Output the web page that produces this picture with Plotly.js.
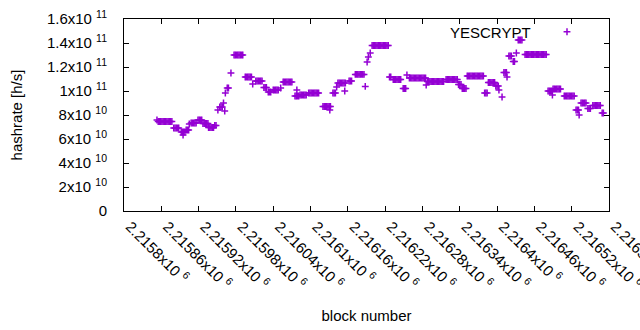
<!DOCTYPE html>
<html>
<head>
<meta charset="utf-8">
<script src="https://cdn.plot.ly/plotly-3.0.1.min.js"></script>
<style>html,body{margin:0;padding:0;background:#fff;}#chart{width:640px;height:330px;}</style>
</head>
<body>
<div id="chart"></div>
<script>
var seriesName = "YESCRYPT";
var blocks = [
2215853,
2215855,2215857,2215859,2215861,2215863,2215865,2215867,2215869,2215871,2215873,2215875,2215877,
2215880,2215882,2215884,2215886,2215888,
2215892,2215894,2215895,2215896,2215898,
2215900,2215902,2215904,
2215905,
2215908,2215910,2215912,2215914,2215916,
2215919,2215921,2215923,2215925,
2215927,2215929,2215931,2215933,2215935,
2215936,2215938,2215940,2215942,2215944,
2215946,2215948,
2215951,
2215954,2215956,2215958,
2215960,
2215962,
2215963,
2215966,2215968,
2215972,
2215977,2215979,2215981,2215983,2215985,2215987,2215989,2215991,
2215995,2215997,2215999,2216001,2216003,2216005,
2216007,
2216012,2216014,2216016,2216018,2216020,2216022,
2216025,2216027,2216029,
2216032,2216034,2216036,
2216040,2216042,2216044,2216046,2216048,
2216052,
2216056,2216058,2216060,2216062,2216064,2216066,2216068,2216070,
2216075,2216077,2216078,2216079,2216081,
2216083,2216085,2216087,2216089,2216091,2216093,
2216097,2216099,2216101,2216103,2216105,2216107,2216109,2216111,2216113,
2216120,2216122,2216124,2216126,2216128,2216130,2216131,2216132,
2216136,2216138,2216140,
2216142,
2216144,2216146,2216148,2216150,2216152,2216154,2216155,2216156,
2216162,2216164,2216166,
2216172,2216174,2216176,2216178,2216180,2216182,2216184,2216186,
2216188,
2216191,
2216193,
2216196,
2216199,2216201,2216203,2216205,2216207,2216209,2216211,2216213,2216215,2216217,2216219,2216221,2216223,2216225,
2216227,2216229,
2216233,2216235,2216237,2216239,2216241,2216243,2216245,
2216249,2216251,2216253,
2216255,
2216259,2216261,2216263,2216265,2216267,2216269,2216271,2216273,2216275,2216277,2216279,2216281,2216283,2216285,
2216286,
2216288,2216290,2216292,2216294,2216296,2216298,2216300,2216302,2216304,2216306,2216308,2216310,2216312,2216314,
2216318,2216320,2216322,2216324,2216326,2216328,2216330,2216332,2216334,2216336,
2216338,2216340,2216342,
2216344,2216346,2216348,2216350,
2216352,2216354,2216356,2216358,2216360,2216362,2216364,2216366,2216368,2216370,2216372,2216374,2216376,2216378,
2216380,2216382,2216384,
2216386,2216388,2216390,2216392,2216394,2216396,
2216398,2216400,2216402,
2216403,
2216408,
2216411,2216413,2216415,
2216416,
2216419,2216421,2216423,
2216426,2216428,
2216431,
2216434,2216436,2216438,2216440,
2216445,2216447,2216449,2216451,2216453,2216455,2216457,2216459,2216461,2216463,2216465,2216467,2216469,2216471,2216473,2216475,2216477,2216479,
2216482,2216484,2216486,2216488,
2216489,
2216490,2216492,2216494,2216496,2216498,2216500,2216502,
2216508,2216510,2216512,2216514,2216516,2216518,2216520,2216522,2216524,
2216527,2216529,2216531,
2216532,
2216535,2216537,2216539,2216541,2216543,
2216546,2216548,2216550,
2216554,2216556,2216558,2216560,2216562,2216564,2216566,
2216569,2216571
];
var hashrate = [
7.58e10,
7.46e10,7.46e10,7.46e10,7.46e10,7.46e10,7.46e10,7.46e10,7.46e10,7.46e10,7.46e10,7.46e10,7.46e10,
6.92e10,6.92e10,6.92e10,6.92e10,6.92e10,
6.58e10,6.58e10,6.33e10,6.58e10,6.58e10,
6.75e10,6.75e10,6.75e10,
7.25e10,
7.33e10,7.33e10,7.33e10,7.33e10,7.33e10,
7.58e10,7.58e10,7.58e10,7.58e10,
7.29e10,7.29e10,7.29e10,7.29e10,7.29e10,
6.96e10,6.96e10,6.96e10,6.96e10,6.96e10,
7.13e10,7.13e10,
8.42e10,
8.67e10,8.67e10,8.67e10,
9.00e10,
8.33e10,
9.83e10,
10.25e10,10.25e10,
11.5e10,
13.0e10,13.0e10,13.0e10,13.0e10,13.0e10,13.0e10,13.0e10,13.0e10,
11.17e10,11.17e10,11.17e10,11.17e10,11.17e10,11.17e10,
10.58e10,
10.83e10,10.83e10,10.83e10,10.83e10,10.83e10,10.83e10,
10.29e10,10.29e10,10.29e10,
9.92e10,9.92e10,9.92e10,
10.08e10,10.08e10,10.08e10,10.08e10,10.08e10,
10.25e10,
10.75e10,10.75e10,10.75e10,10.75e10,10.75e10,10.75e10,10.75e10,10.75e10,
9.58e10,9.58e10,10.08e10,9.58e10,9.58e10,
9.67e10,9.67e10,9.67e10,9.67e10,9.67e10,9.67e10,
9.83e10,9.83e10,9.83e10,9.83e10,9.83e10,9.83e10,9.83e10,9.83e10,9.83e10,
8.71e10,8.71e10,8.71e10,8.71e10,8.71e10,8.71e10,8.42e10,8.71e10,
9.83e10,9.83e10,9.83e10,
10.33e10,
10.67e10,10.67e10,10.67e10,10.67e10,10.67e10,10.67e10,10.0e10,10.67e10,
10.83e10,10.83e10,10.83e10,
11.38e10,11.38e10,11.38e10,11.38e10,11.38e10,11.38e10,11.38e10,11.38e10,
10.38e10,
12.42e10,
12.83e10,
13.17e10,
13.79e10,13.79e10,13.79e10,13.79e10,13.79e10,13.79e10,13.79e10,13.79e10,13.79e10,13.79e10,13.79e10,13.79e10,13.79e10,13.79e10,
11.17e10,11.17e10,
10.96e10,10.96e10,10.96e10,10.96e10,10.96e10,10.96e10,10.96e10,
10.21e10,10.21e10,10.21e10,
11.33e10,
11.08e10,11.08e10,11.08e10,11.08e10,11.08e10,11.08e10,11.08e10,11.08e10,11.08e10,11.08e10,11.08e10,11.08e10,11.08e10,11.08e10,
10.5e10,
10.79e10,10.79e10,10.79e10,10.79e10,10.79e10,10.79e10,10.79e10,10.79e10,10.79e10,10.79e10,10.79e10,10.79e10,10.79e10,10.79e10,
10.96e10,10.96e10,10.96e10,10.96e10,10.96e10,10.96e10,10.96e10,10.96e10,10.96e10,10.96e10,
10.54e10,10.54e10,10.54e10,
10.21e10,10.21e10,10.21e10,10.21e10,
11.25e10,11.25e10,11.25e10,11.25e10,11.25e10,11.25e10,11.25e10,11.25e10,11.25e10,11.25e10,11.25e10,11.25e10,11.25e10,11.25e10,
9.83e10,9.83e10,9.83e10,
10.71e10,10.71e10,10.71e10,10.71e10,10.71e10,10.71e10,
10.42e10,10.42e10,10.42e10,
10.08e10,
9.5e10,
11.54e10,11.54e10,11.54e10,
11.17e10,
12.92e10,12.92e10,12.92e10,
12.46e10,12.46e10,
13.17e10,
14.25e10,14.25e10,14.25e10,14.25e10,
13.04e10,13.04e10,13.04e10,13.04e10,13.04e10,13.04e10,13.04e10,13.04e10,13.04e10,13.04e10,13.04e10,13.04e10,13.04e10,13.04e10,13.04e10,13.04e10,13.04e10,13.04e10,
10.0e10,10.0e10,10.0e10,10.0e10,
9.67e10,
10.17e10,10.17e10,10.17e10,10.17e10,10.17e10,10.17e10,10.17e10,
9.58e10,9.58e10,9.58e10,9.58e10,9.58e10,9.58e10,9.58e10,9.58e10,9.58e10,
8.42e10,8.42e10,8.42e10,
8.0e10,
9.0e10,9.0e10,9.0e10,9.0e10,9.0e10,
8.54e10,8.54e10,8.54e10,
8.79e10,8.79e10,8.79e10,8.79e10,8.79e10,8.79e10,8.79e10,
8.17e10,8.17e10
];
var xTickVals = [2215800,2215860,2215920,2215980,2216040,2216100,2216160,2216220,2216280,2216340,2216400,2216460,2216520,2216580];
var xTickText = ["2.2158x10 <sup>6</sup>","2.21586x10 <sup>6</sup>","2.21592x10 <sup>6</sup>","2.21598x10 <sup>6</sup>","2.21604x10 <sup>6</sup>","2.2161x10 <sup>6</sup>","2.21616x10 <sup>6</sup>","2.21622x10 <sup>6</sup>","2.21628x10 <sup>6</sup>","2.21634x10 <sup>6</sup>","2.2164x10 <sup>6</sup>","2.21646x10 <sup>6</sup>","2.21652x10 <sup>6</sup>","2.21658x10 <sup>6</sup>"];
var yTickVals = [0,2e10,4e10,6e10,8e10,1e11,1.2e11,1.4e11,1.6e11];
var yTickText = ["0","2x10 <sup>10</sup>","4x10 <sup>10</sup>","6x10 <sup>10</sup>","8x10 <sup>10</sup>","1x10 <sup>11</sup>","1.2x10 <sup>11</sup>","1.4x10 <sup>11</sup>","1.6x10 <sup>11</sup>"];

var FONT = "Liberation Sans, Arial, sans-serif";
var purple = "#9400d3";

var trace = {
  type: "scatter", mode: "markers", x: blocks, y: hashrate, name: "",
  marker: {symbol: "cross-thin-open", size: 4.9, color: purple, line: {color: purple, width: 1.5}},
  hoverinfo: "none"
};

var layout = {
  width: 640, height: 330,
  margin: {l: 124, r: 31, t: 19, b: 119},
  paper_bgcolor: "#fff", plot_bgcolor: "#fff",
  font: {family: FONT, size: 15, color: "#000"},
  showlegend: true,
  legend: {x: (547 - 124) / 485, xanchor: "left", y: (211 - 32) / 192, yanchor: "middle",
           bgcolor: "rgba(0,0,0,0)", font: {family: FONT, size: 15}},
  xaxis: {
    range: [2215800, 2216580], tickmode: "array", tickvals: xTickVals, ticktext: xTickText,
    tickangle: 45, ticks: "inside", ticklen: 5, tickcolor: "#000", mirror: "allticks",
    showline: true, linecolor: "#000", linewidth: 1, showgrid: false, zeroline: false,
    tickfont: {family: FONT, size: 15, color: "#000"}, ticklabelstandoff: 0, ticklabelshift: 6,
    ticklabeloverflow: "allow",
    title: {text: "block number", font: {family: FONT, size: 15, color: "#000"}, standoff: 18}
  },
  yaxis: {
    range: [0, 1.6e11], tickmode: "array", tickvals: yTickVals, ticktext: yTickText,
    ticks: "inside", ticklen: 5, tickcolor: "#000", mirror: "allticks",
    showline: true, linecolor: "#000", linewidth: 1, showgrid: false, zeroline: false,
    tickfont: {family: FONT, size: 15, color: "#000"}, ticklabelstandoff: 13,
    title: {text: "hashrate [h/s]", font: {family: FONT, size: 15, color: "#000"}, standoff: 20}
  },
  annotations: [{
    text: seriesName, xref: "paper", yref: "paper", x: (533 - 124) / 485, y: (211 - 32) / 192,
    xanchor: "right", yanchor: "middle", showarrow: false, font: {family: FONT, size: 15, color: "#000"}
  }]
};

Plotly.newPlot("chart", [trace], layout, {staticPlot: true, displayModeBar: false});
</script>
</body>
</html>
